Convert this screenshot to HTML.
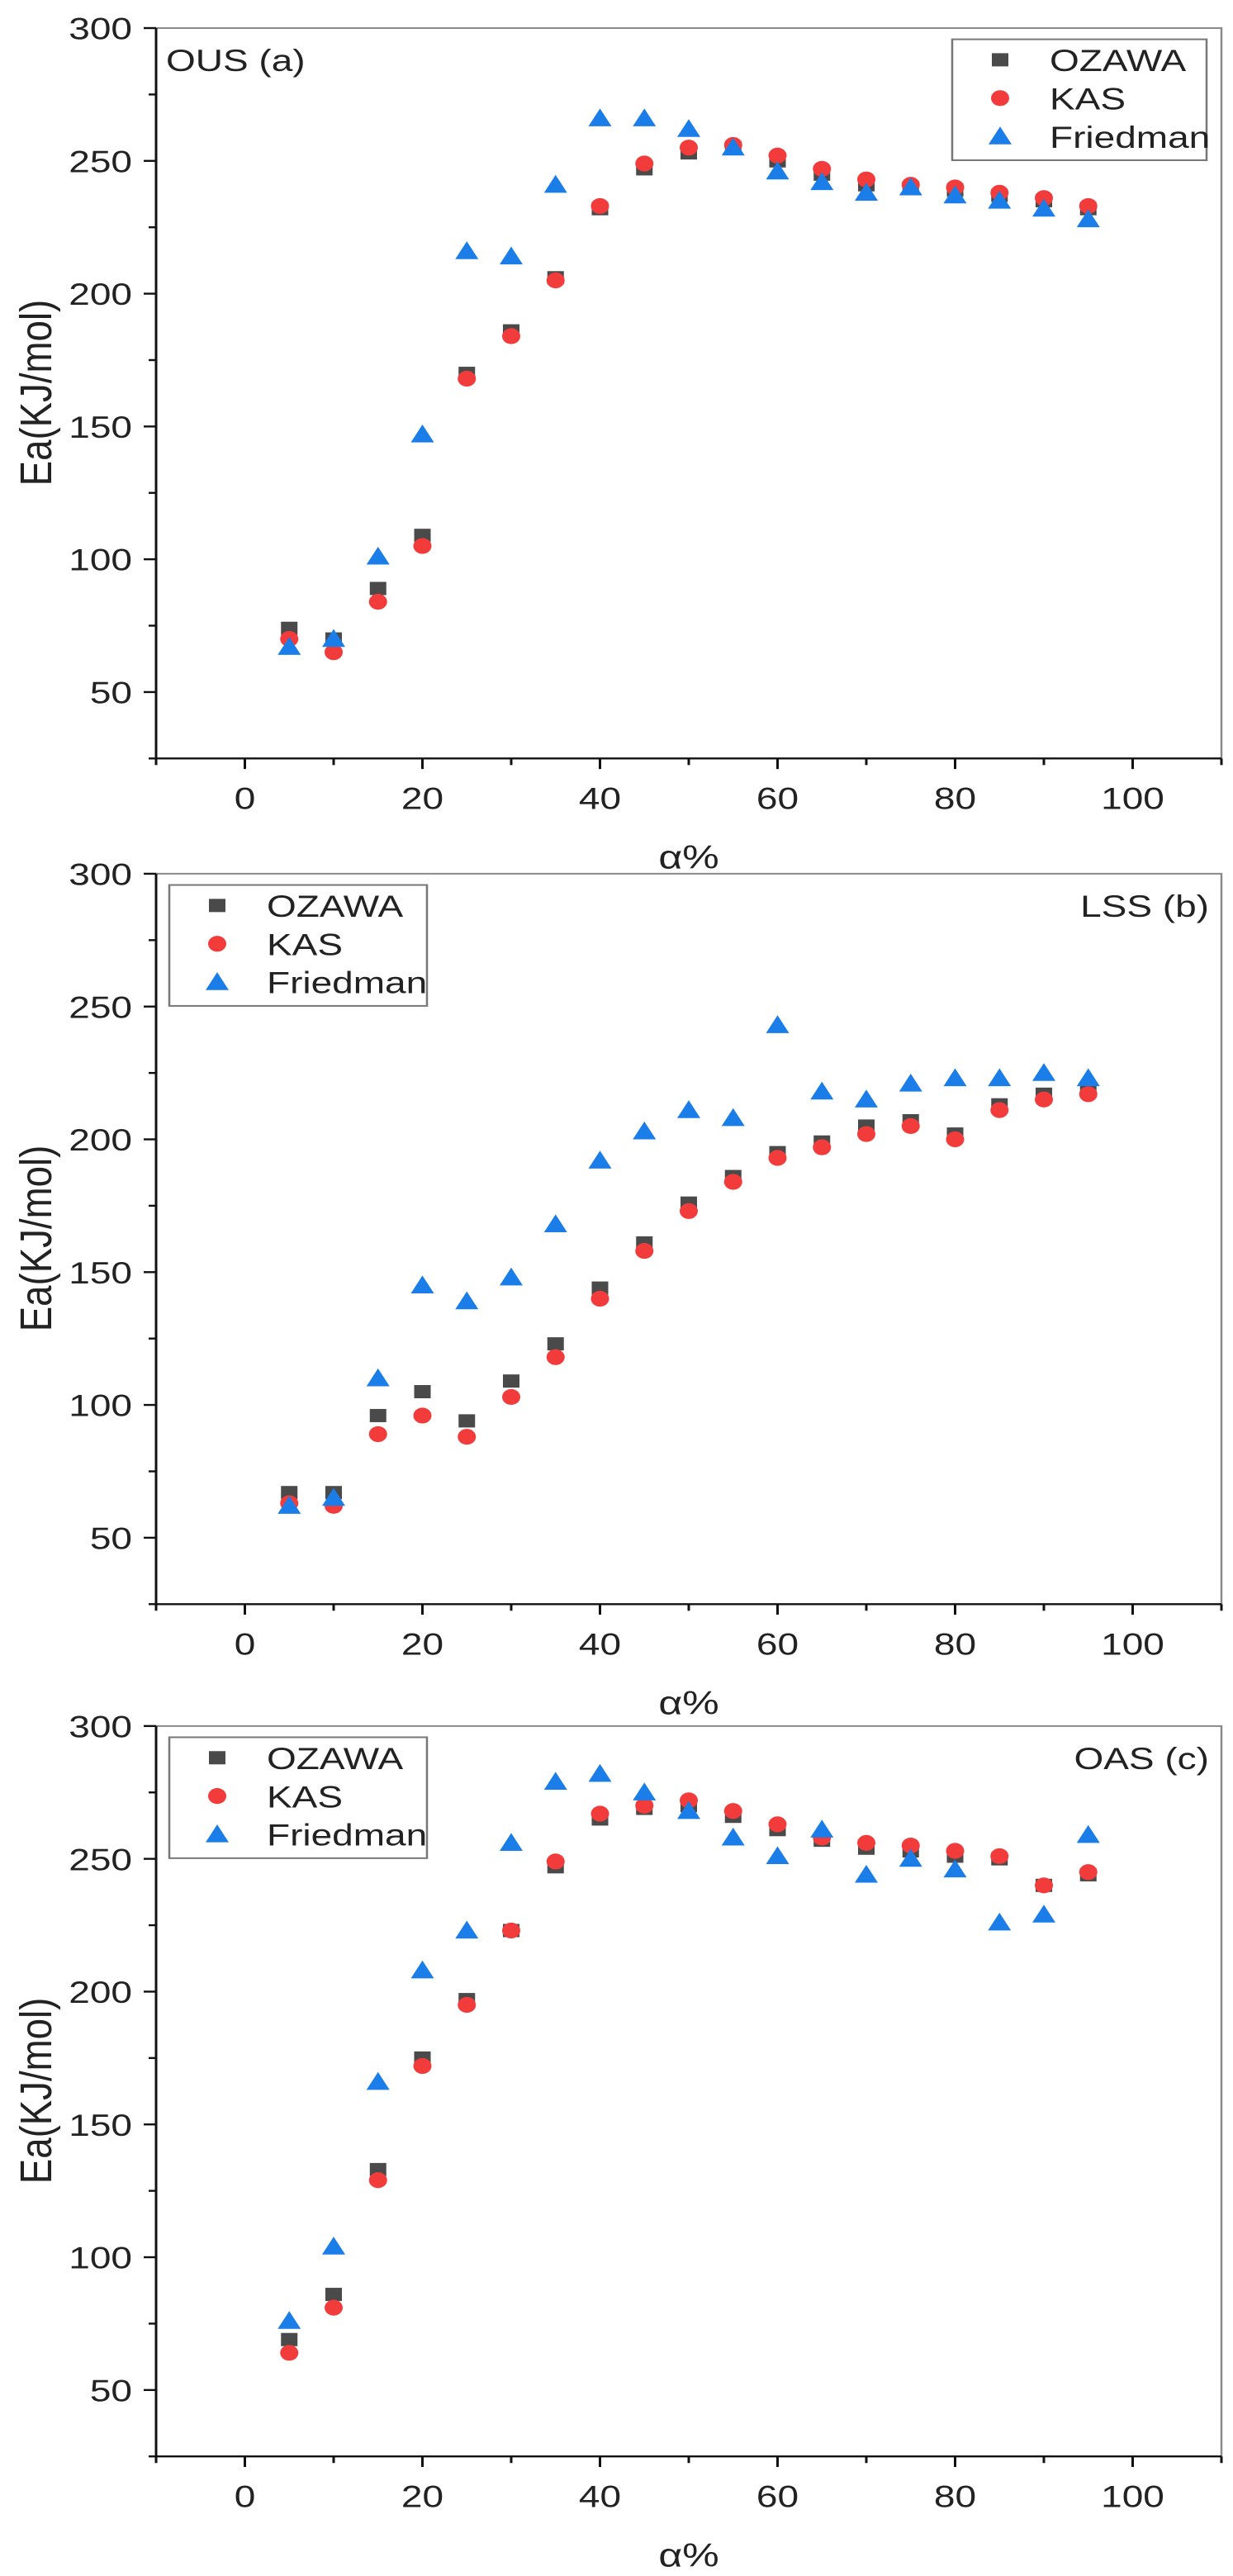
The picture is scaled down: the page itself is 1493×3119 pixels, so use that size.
<!DOCTYPE html>
<html><head><meta charset="utf-8"><style>html,body{margin:0;padding:0;background:#fff}svg{display:block}</style></head>
<body>
<svg id="chart" xmlns="http://www.w3.org/2000/svg" width="1493" height="3119" viewBox="0 0 1493 3899" preserveAspectRatio="none" font-family="Liberation Sans, Arial, sans-serif"></svg>
<script>
const alphaValues = [5,10,15,20,25,30,35,40,45,50,55,60,65,70,75,80,85,90,95];
const ousOzawa = [74,70,89,109,170,186,206,232,247,253,255,250,245,241,240,239,237,235,232];
const ousKas = [70,65,84,105,168,184,205,233,249,255,256,252,247,243,241,240,238,236,233];
const ousFriedman = [67,70,101,147,216,214,241,266,266,262,255,246,242,238,240,237,235,232,228];
const lssOzawa = [67,67,96,105,94,109,123,144,161,176,186,195,199,205,207,202,213,217,219];
const lssKas = [63,62,89,96,88,103,118,140,158,173,184,193,197,202,205,200,211,215,217];
const lssFriedman = [62,65,110,145,139,148,168,192,203,211,208,243,218,215,221,223,223,225,223];
const oasOzawa = [69,86,133,175,197,223,247,265,269,270,266,261,257,254,253,251,250,240,244];
const oasKas = [64,81,129,172,195,223,249,267,270,272,268,263,258,256,255,253,251,240,245];
const oasFriedman = [76,104,166,208,223,256,279,282,275,268,258,251,261,244,250,246,226,229,259];
const yTickLabels = [50,100,150,200,250,300];
const xTickLabels = [0,20,40,60,80,100];
const seriesNames = ['OZAWA','KAS','Friedman'];

const NS='http://www.w3.org/2000/svg';
const svg=document.getElementById('chart');
function mk(tag,attrs,parent){const e=document.createElementNS(NS,tag);for(const k in attrs)e.setAttribute(k,attrs[k]);(parent||svg).appendChild(e);return e;}
const X0=189,X1=1479,XMIN=-10,XMAX=110,YMIN=25,YMAX=300,PH=1105.5;
const colors=['#4a4a4a','#f23c3c','#1a7de8'];
function marker(g,type,cx,cy,name){
  let e;
  if(type===0) e=mk('rect',{x:cx-10,y:cy-10,width:20,height:20,fill:colors[0]},g);
  else if(type===1) e=mk('ellipse',{cx:cx,cy:cy,rx:11,ry:12,fill:colors[1]},g);
  else e=mk('polygon',{points:`${cx},${cy-15} ${cx+14},${cy+12} ${cx-14},${cy+12}`,fill:colors[2]},g);
  
  
  return e;
}
function panel(T,label,series,legendLeft,id){
  const g=mk('g',{});
  
  
  const xs=v=>X0+(v-XMIN)/(XMAX-XMIN)*(X1-X0);
  const ys=v=>T+(YMAX-v)/(YMAX-YMIN)*PH;
  const B=ys(YMIN);
  const fr=mk('path',{d:`M${X0},${T}H${X1}V${B}`,stroke:'#8a8a8a','stroke-width':2.5,fill:'none'},g);
  
  
  const ax=mk('path',{d:`M${X0},${T}V${B}H${X1}`,stroke:'#111','stroke-width':3,fill:'none'},g);
  
  
  for(let v=YMIN;v<=YMAX;v+=25){
    const maj=yTickLabels.includes(v);
    mk('line',{x1:X0,x2:X0-(maj?15:9),y1:ys(v),y2:ys(v),stroke:'#111','stroke-width':3},g);
  }
  yTickLabels.forEach(v=>{
    const t=mk('text',{x:160,y:ys(v)+17,'font-size':46,'text-anchor':'end',fill:'#222'},g);
    t.textContent=v;
    
    
  });
  for(let v=XMIN;v<=XMAX;v+=10){
    const maj=xTickLabels.includes(v);
    mk('line',{x1:xs(v),x2:xs(v),y1:B,y2:B+(maj?16:10),stroke:'#111','stroke-width':3},g);
  }
  xTickLabels.forEach(v=>{
    const t=mk('text',{x:xs(v),y:T+1182,'font-size':46,'text-anchor':'middle',fill:'#222'},g);
    t.textContent=v;
    
    
  });
  const xt=mk('text',{x:(X0+X1)/2,y:T+1272,'font-size':50,'text-anchor':'middle',fill:'#222'},g);
  xt.textContent='α%';
  
  
  const cy=T+552;
  const yt=mk('text',{x:0,y:0,'font-size':54,'text-anchor':'middle',fill:'#222',transform:`translate(62,${cy}) rotate(-90)`,textLength:282,lengthAdjust:'spacingAndGlyphs'},g);
  yt.textContent='Ea(KJ/mol)';
  
  
  // panel label
  const pl=mk('text',{x:legendLeft?1464:201,y:T+65,'font-size':46,'text-anchor':legendLeft?'end':'start',fill:'#222'},g);
  pl.textContent=label;
  
  
  // data
  series.forEach((arr,si)=>{
    const sg=mk('g',{},g);
    
    
    arr.forEach((v,i)=>marker(sg,si,xs(alphaValues[i]),ys(v),'point'));
  });
  // legend
  const lx=legendLeft?205:1153, lw=legendLeft?312:308;
  const lg=mk('g',{},g);
  
  
  mk('rect',{x:lx,y:T+17,width:lw,height:183,fill:'#fff',stroke:'#777','stroke-width':2.5},lg);
  seriesNames.forEach((n,i)=>{
    const ry=T+48+i*58;
    marker(lg,i,lx+58,ry,'legend-marker');
    const t=mk('text',{x:lx+118,y:ry+17,'font-size':46,fill:'#222'},lg);
    t.textContent=n;
    
    
  });
}
panel(42.5,'OUS (a)',[ousOzawa,ousKas,ousFriedman],false,'ous');
panel(1322.5,'LSS (b)',[lssOzawa,lssKas,lssFriedman],true,'lss');
panel(2612.5,'OAS (c)',[oasOzawa,oasKas,oasFriedman],true,'oas');
</script>
</body></html>
